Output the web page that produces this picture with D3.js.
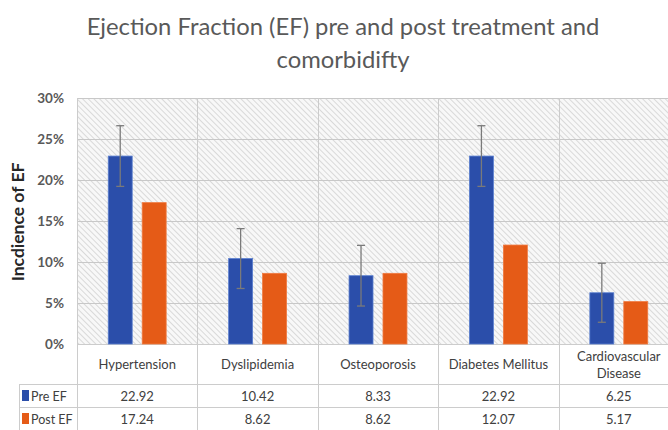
<!DOCTYPE html>
<html><head><meta charset="utf-8">
<script src="https://cdn.jsdelivr.net/npm/d3@7"></script>
<style>body{margin:0;background:#fff;}svg{display:block;font-family:"Open Sans",sans-serif;}</style>
</head><body><svg id="c" width="668" height="430"></svg>
<script>
const categories = ["Hypertension","Dyslipidemia","Osteoporosis","Diabetes Mellitus","Cardiovascular Disease"];
const categoryLines = [["Hypertension"],["Dyslipidemia"],["Osteoporosis"],["Diabetes Mellitus"],["Cardiovascular","Disease"]];
const seriesNames = ["Pre EF","Post EF"];
const preEF = [22.92,10.42,8.33,22.92,6.25];
const postEF = [17.24,8.62,8.62,12.07,5.17];
const preErr = [3.7,3.65,3.7,3.7,3.6];
const yTicks = [0,5,10,15,20,25,30];
const colors = ["#2B4EAA","#E55B17"];
const FONT = 'Lato,"Open Sans",sans-serif';

const svg = d3.select("#c").style("font-family",FONT);
const L=77, R=679, T=98, B=344;
const x = d3.scaleBand().domain(categories).range([L,R]);
const xs = d3.scaleBand().domain(seriesNames).range([0,x.bandwidth()]).paddingInner(0.294).paddingOuter(0.92);
const y = d3.scaleLinear().domain([0,30]).range([B,T]);

// hatch pattern
const defs = svg.append("defs");
const pat = defs.append("pattern").attr("id","hatch").attr("patternUnits","userSpaceOnUse")
  .attr("width",4).attr("height",4).attr("patternTransform","rotate(-45)");
pat.append("rect").attr("width",4).attr("height",4).attr("fill","#f8f8f8");
pat.append("line").attr("x1",0).attr("y1",0).attr("x2",0).attr("y2",4).attr("stroke","#cccccc").attr("stroke-width",1.4);
svg.append("rect").attr("x",L).attr("y",T).attr("width",R-L).attr("height",B-T).attr("fill","url(#hatch)");

// title
const title = svg.append("text").attr("text-anchor","middle").attr("fill","#595959").attr("font-size",23.8);
title.append("tspan").attr("x",343).attr("y",35).text("Ejection Fraction (EF) pre and post treatment and");
title.append("tspan").attr("x",343).attr("y",68).text("comorbidifty");

// horizontal grid
svg.append("g").selectAll("line").data(yTicks).join("line")
  .attr("x1",L).attr("x2",R).attr("y1",d=>y(d)+0.5).attr("y2",d=>y(d)+0.5)
  .attr("stroke","#c8c8c8").attr("stroke-width",1);

// y axis labels
const yAxis = d3.axisLeft(y).tickValues(yTicks).tickFormat(d=>d+"%").tickSize(0).tickPadding(0);
const ga = svg.append("g").attr("transform",`translate(64,0)`).call(yAxis);
ga.select(".domain").remove();
ga.selectAll("text").attr("font-size",13.5).attr("font-weight","bold").attr("fill","#595959").attr("font-family",FONT);

// axis title
svg.append("text").attr("transform","translate(24,222) rotate(-90)").attr("text-anchor","middle")
  .attr("font-size",17.5).attr("font-weight","bold").attr("fill","#262626").text("Incdience of EF");

// table lines
const rowY = [B, 384, 407, 430];
const tbl = svg.append("g").attr("stroke","#cccccc").attr("stroke-width",1);
const bounds = categories.map(c=>x(c)).concat([R]);
tbl.selectAll("line.v").data(bounds).join("line").attr("class","v")
  .attr("x1",d=>Math.round(d)+0.5).attr("x2",d=>Math.round(d)+0.5).attr("y1",T).attr("y2",430);
tbl.append("line").attr("x1",19.5).attr("x2",19.5).attr("y1",384).attr("y2",430);
[384,407].forEach(yy=>tbl.append("line").attr("x1",19).attr("x2",R).attr("y1",yy+0.5).attr("y2",yy+0.5));
tbl.append("line").attr("x1",L).attr("x2",R).attr("y1",B+0.5).attr("y2",B+0.5);

// bars
const data = categories.map((c,i)=>({c,vals:[preEF[i],postEF[i]],err:preErr[i]}));
const gb = svg.append("g");
data.forEach(d=>{
  d.vals.forEach((v,j)=>{
    gb.append("rect").attr("x",x(d.c)+xs(seriesNames[j])).attr("width",xs.bandwidth())
      .attr("y",y(v)).attr("height",y(0)-y(v)).attr("fill",colors[j])
      .attr("stroke",j===0?"#5a7fd0":"#f07a40").attr("stroke-width",0.8);
  });
  const cx = x(d.c)+xs(seriesNames[0])+xs.bandwidth()/2;
  const e = gb.append("g").attr("stroke","#7a7a7a").attr("stroke-width",1.3);
  e.append("line").attr("x1",cx).attr("x2",cx).attr("y1",y(d.vals[0]+d.err)).attr("y2",y(d.vals[0]-d.err));
  e.append("line").attr("x1",cx-4).attr("x2",cx+4).attr("y1",y(d.vals[0]+d.err)).attr("y2",y(d.vals[0]+d.err));
  e.append("line").attr("x1",cx-4).attr("x2",cx+4).attr("y1",y(d.vals[0]-d.err)).attr("y2",y(d.vals[0]-d.err));
});

// category labels
const gl = svg.append("g").attr("font-size",13).attr("fill","#404040").attr("text-anchor","middle");
categories.forEach((c,i)=>{
  const lines = categoryLines[i];
  const cx = x(c)+x.bandwidth()/2;
  const t = gl.append("text");
  const y0 = lines.length===1 ? 369 : 361;
  lines.forEach((ln,k)=>t.append("tspan").attr("x",cx).attr("y",y0+k*17).text(ln));
});
// values
[preEF,postEF].forEach((arr,j)=>{
  arr.forEach((v,i)=>{
    gl.append("text").attr("x",x(categories[i])+x.bandwidth()/2).attr("y",rowY[j+1]+17).text(v.toFixed(2));
  });
  svg.append("rect").attr("x",22).attr("y",rowY[j+1]+6).attr("width",7).attr("height",11).attr("fill",colors[j]);
  svg.append("text").attr("x",31).attr("y",rowY[j+1]+17).attr("font-size",12.5).attr("fill","#404040").text(seriesNames[j]);
});
</script></body></html>
